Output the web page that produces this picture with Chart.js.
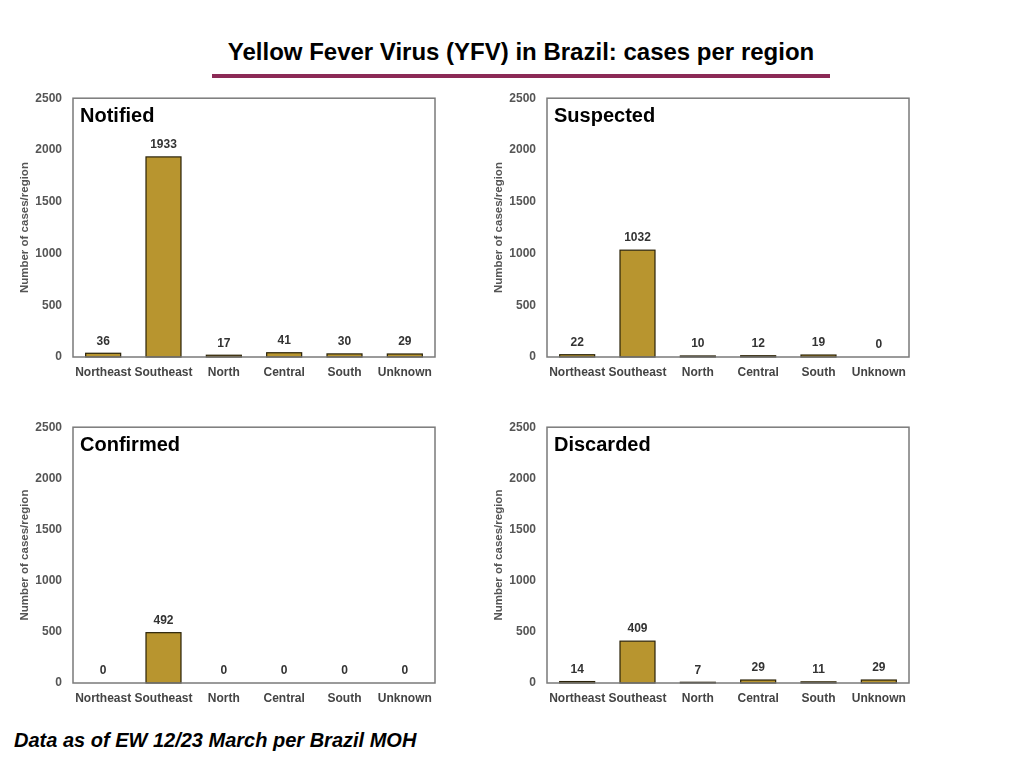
<!DOCTYPE html>
<html>
<head>
<meta charset="utf-8">
<script src="https://cdn.jsdelivr.net/npm/chart.js@4"></script>
<style>
  html, body { margin:0; padding:0; background:#fff; }
  body { width:1024px; height:768px; position:relative; overflow:hidden; font-family:"Liberation Sans", Arial, sans-serif; }
  #title { position:absolute; left:0; width:1042px; top:37px; text-align:center; font-weight:bold; font-size:24px; color:#000; line-height:30px; }
  #rule { position:absolute; left:212px; top:74px; width:618px; height:4px; background:#8C2A56; }
  #foot { position:absolute; left:14px; top:727px; font-weight:bold; font-style:italic; font-size:20px; color:#000; line-height:26px; }
  canvas { position:absolute; }
</style>
</head>
<body>
<div id="title">Yellow Fever Virus (YFV) in Brazil: cases per region</div>
<div id="rule"></div>
<canvas id="c1" width="460" height="310" style="left:0px;top:80px"></canvas>
<canvas id="c2" width="460" height="310" style="left:474px;top:80px"></canvas>
<canvas id="c3" width="460" height="310" style="left:0px;top:409px"></canvas>
<canvas id="c4" width="460" height="310" style="left:474px;top:409px"></canvas>
<div id="foot">Data as of EW 12/23 March per Brazil MOH</div>
<script>
const categories = ['Northeast', 'Southeast', 'North', 'Central', 'South', 'Unknown'];
const notified  = [36, 1933, 17, 41, 30, 29];
const suspected = [22, 1032, 10, 12, 19, 0];
const confirmed = [0, 492, 0, 0, 0, 0];
const discarded = [14, 409, 7, 29, 11, 29];
const panelTitles = ['Notified', 'Suspected', 'Confirmed', 'Discarded'];
const yMin = 0, yMax = 2500, yStep = 500;
const yTitle = 'Number of cases/region';

const FONT = '"Liberation Sans", Arial, sans-serif';

const panelPlugin = {
  id: 'panelDecor',
  afterDatasetsDraw(chart, args, opts) {
    const ctx = chart.ctx;
    const a = chart.chartArea;
    ctx.save();
    const meta = chart.getDatasetMeta(0);
    const data = chart.data.datasets[0].data;
    // bar outlines
    ctx.strokeStyle = '#2a2208';
    ctx.lineWidth = 1.2;
    meta.data.forEach((bar, i) => {
      if (data[i] > 0) {
        const p = bar.getProps(['x', 'y', 'base', 'width'], true);
        ctx.strokeRect(p.x - p.width / 2, p.y, p.width, p.base - p.y);
      }
    });
    // value labels
    ctx.font = 'bold 12px ' + FONT;
    ctx.fillStyle = '#333';
    ctx.textAlign = 'center';
    ctx.textBaseline = 'middle';
    meta.data.forEach((bar, i) => {
      ctx.fillText(String(data[i]), bar.x, bar.y - 12);
    });
    // frame
    ctx.strokeStyle = '#7a7a7a';
    ctx.lineWidth = 1.5;
    ctx.strokeRect(a.left, a.top, a.right - a.left, a.bottom - a.top);
    // panel title
    ctx.font = 'bold 20px ' + FONT;
    ctx.fillStyle = '#000';
    ctx.textAlign = 'left';
    ctx.textBaseline = 'middle';
    ctx.fillText(opts.text, a.left + 7, a.top + 18);
    ctx.restore();
  }
};

function makeChart(id, values, title, xHeight) {
  return new Chart(document.getElementById(id), {
    type: 'bar',
    data: {
      labels: categories,
      datasets: [{
        data: values,
        backgroundColor: '#B8952F',
        borderWidth: 0,
        barPercentage: 0.58,
        categoryPercentage: 1.0
      }]
    },
    options: {
      responsive: false,
      animation: false,
      events: [],
      layout: { padding: { top: 15, right: 25, left: 0, bottom: 0 } },
      plugins: {
        legend: { display: false },
        tooltip: { enabled: false },
        title: { display: false },
        panelDecor: { text: title }
      },
      scales: {
        x: {
          grid: { display: false, drawTicks: false },
          border: { display: false },
          ticks: { font: { family: FONT, size: 12, weight: 'bold' }, color: '#444', padding: 8, maxRotation: 0, autoSkip: false },
          afterFit(s) { s.height = xHeight; }
        },
        y: {
          min: yMin, max: yMax,
          grid: { display: false, drawTicks: false },
          border: { display: false },
          ticks: { stepSize: yStep, font: { family: FONT, size: 12, weight: 'bold' }, color: '#555', padding: 11,
                   callback: (v) => String(v) },
          title: { display: true, text: yTitle, font: { family: FONT, size: 11.5, weight: 'bold' }, color: '#555', padding: { top: 18, bottom: 0 } },
          afterFit(s) { s.width = 73; }
        }
      }
    },
    plugins: [panelPlugin]
  });
}

makeChart('c1', notified, panelTitles[0], 33);
makeChart('c2', suspected, panelTitles[1], 33);
makeChart('c3', confirmed, panelTitles[2], 36);
makeChart('c4', discarded, panelTitles[3], 36);
</script>
</body>
</html>
